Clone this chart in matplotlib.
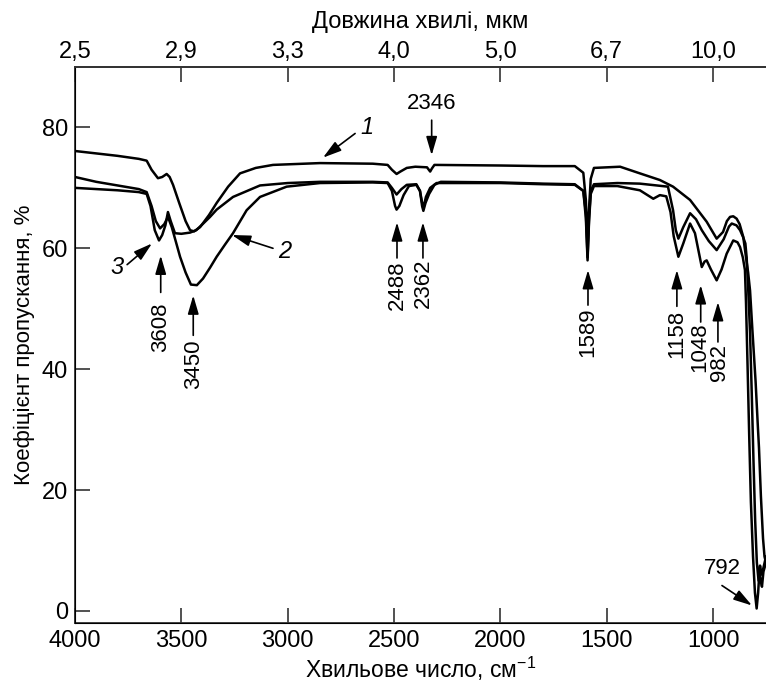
import numpy as np
import matplotlib.pyplot as plt

plt.rcParams['font.family'] = ['Liberation Sans', 'DejaVu Sans']
plt.rcParams['mathtext.fontset'] = 'custom'
plt.rcParams['mathtext.rm'] = 'Liberation Sans'
plt.rcParams['mathtext.it'] = 'Liberation Sans:italic'

# curve 1 (top)
wn1 = [4000, 3900, 3800, 3700, 3663, 3640, 3610, 3590, 3569, 3555, 3539, 3510, 3480, 3459, 3440,
       3412, 3370, 3334, 3280, 3224, 3150, 3069, 2848, 2600, 2530, 2510, 2488, 2470, 2440, 2400,
       2345, 2330, 2322, 2310, 2000, 1800, 1650, 1610, 1598, 1590, 1584, 1575, 1560, 1437, 1344,
       1250, 1188, 1108, 1030, 983, 953, 935, 920, 905, 889, 875, 858, 845, 835, 826, 815, 800,
       790, 784, 775, 765, 758, 751]
t1 = [76.1, 75.7, 75.3, 74.8, 74.5, 73.0, 71.6, 71.8, 72.3, 71.8, 70.5, 67.5, 64.5, 63.0, 62.8,
      63.5, 65.5, 67.5, 70.2, 72.4, 73.3, 73.8, 74.1, 74.0, 73.8, 73.0, 72.3, 72.7, 73.3, 73.5,
      73.4, 72.7, 73.2, 73.8, 73.7, 73.6, 73.6, 72.5, 68.0, 60.0, 66.0, 71.5, 73.3, 73.5, 72.4,
      71.3, 70.2, 68.0, 64.4, 61.6, 62.7, 64.5, 65.2, 65.3, 64.9, 64.0, 61.9, 58.5, 56.0, 53.0, 46.5, 38.0,
      31.0, 27.0, 19.0, 12.0, 9.0, 8.0]

# curve 2 (deep band at 3450)
wn2 = [4000, 3900, 3800, 3700, 3663, 3640, 3620, 3600, 3580, 3563, 3545, 3525, 3506, 3480, 3455,
       3427, 3398, 3365, 3334, 3295, 3257, 3193, 3130, 3005, 2848, 2600, 2530, 2510, 2495, 2488,
       2475, 2455, 2430, 2395, 2378, 2368, 2362, 2352, 2335, 2310, 2280, 2000, 1800, 1650, 1610,
       1598, 1590, 1583, 1575, 1560, 1450, 1344, 1212, 1188, 1175, 1163, 1140, 1108, 1080, 1053,
       1020, 983, 950, 925, 912, 890, 873, 858, 848, 842, 835, 826, 818, 810, 802, 794, 786, 779,
       772, 764, 751]
t2 = [71.8, 71.0, 70.4, 69.8, 69.3, 67.0, 64.5, 63.3, 64.0, 65.2, 63.5, 61.0, 58.6, 56.0, 54.0,
      53.9, 55.0, 56.8, 58.6, 60.6, 62.5, 66.3, 68.5, 70.2, 70.8, 70.9, 70.8, 69.5, 67.0, 66.4,
      67.0, 68.8, 70.3, 70.5, 69.5, 67.0, 66.2, 67.5, 69.0, 70.5, 71.0, 70.9, 70.7, 70.6, 69.5,
      66.0, 58.5, 65.0, 69.5, 70.6, 70.8, 70.7, 70.2, 66.3, 63.0, 61.6, 63.5, 65.8, 64.8, 63.0,
      61.2, 59.7, 61.5, 63.6, 64.1, 63.8, 63.0, 61.8, 60.8, 58.5, 53.5, 46.0, 36.0, 25.0, 15.0, 8.0, 5.0, 7.5,
      6.0, 7.0, 9.0]

# curve 3 (bands at 3608, 1158, 1048, 982)
wn3 = [4000, 3900, 3800, 3700, 3663, 3645, 3625, 3605, 3590, 3575, 3563, 3550, 3530, 3500, 3459,
       3430, 3400, 3365, 3334, 3257, 3130, 3000, 2848, 2600, 2530, 2510, 2488, 2465, 2440, 2395,
       2378, 2366, 2362, 2350, 2330, 2300, 2000, 1800, 1650, 1610, 1598, 1590, 1583, 1575, 1560,
       1450, 1344, 1281, 1250, 1220, 1200, 1185, 1163, 1140, 1108, 1085, 1069, 1053, 1040, 1030,
       1010, 983, 960, 936, 905, 885, 873, 860, 850, 845, 838, 830, 822, 812, 803, 795, 788, 782,
       776, 770, 763, 751]
t3 = [70.0, 69.8, 69.6, 69.3, 69.0, 67.0, 63.0, 61.3, 62.2, 63.8, 66.0, 64.5, 62.5, 62.4, 62.6,
      63.0, 64.0, 65.2, 66.4, 68.5, 70.4, 70.8, 71.0, 71.0, 70.9, 70.0, 68.9, 69.8, 70.5, 70.6,
      69.5, 67.2, 66.6, 68.5, 70.0, 70.8, 70.8, 70.6, 70.5, 69.5, 65.0, 58.0, 64.5, 69.0, 70.3,
      70.3, 69.6, 68.2, 68.8, 68.6, 66.0, 62.0, 58.6, 60.8, 64.1, 62.5, 59.7, 56.9, 57.8, 58.0,
      56.5, 54.7, 56.5, 59.1, 61.3, 61.0, 60.2, 58.5, 56.4, 51.0, 41.0, 29.0, 18.0, 9.0, 3.0, 0.4, 3.0, 6.5,
      5.0, 4.0, 6.5, 8.0]

xticks = [4000, 3500, 3000, 2500, 2000, 1500, 1000]
top_labels = ['2,5', '2,9', '3,3', '4,0', '5,0', '6,7', '10,0']
yticks = [0, 20, 40, 60, 80]

# band labels with vertical text and up arrows
band_labels = ['3608', '3450', '2488', '2362', '1589', '1158', '1048', '982']
band_x = [3597, 3444, 2486, 2364, 1588, 1170, 1058, 977]
text_x = [3597, 3444, 2486, 2364, 1588, 1170, 1064, 969]
tip_y = [58.8, 52.2, 64.3, 64.3, 56.4, 56.4, 53.9, 51.1]
tail_y = [52.7, 45.6, 58.4, 58.4, 50.6, 50.4, 47.8, 44.5]
text_y = [46.9, 40.8, 53.9, 54.2, 46.1, 45.9, 43.6, 41.1]

fig = plt.figure(figsize=(7.66, 6.84), dpi=100)
ax = fig.add_axes([75/766, 61/684, 691/766, 556/684])

for wn, t in [(wn1, t1), (wn2, t2), (wn3, t3)]:
    ax.plot(wn, t, color='black', lw=1.8, solid_joinstyle='round')

ax.set_xlim(4000, 751)
ax.set_ylim(-2, 90)
ax.set_xticks(xticks)
ax.set_yticks(yticks)
ax.spines['right'].set_visible(False)
for s in ['left', 'top', 'bottom']:
    ax.spines[s].set_linewidth(1.3)
    ax.spines[s].set_color('#333333')
ax.tick_params(direction='in', length=11, width=1.2, color='#333333', labelsize=17, pad=5)
ax.set_xlabel('Хвильове число, см$^{-1}$', fontsize=16.5, labelpad=2)
ax.set_ylabel('Коефіцієнт пропускання, %', fontsize=16, labelpad=5)

ax2 = ax.twiny()
ax2.set_xlim(ax.get_xlim())
ax2.set_xticks(xticks)
ax2.set_xticklabels(top_labels)
ax2.spines['right'].set_visible(False)
ax2.spines['top'].set_linewidth(1.3)
ax2.spines['top'].set_color('#333333')
ax2.tick_params(direction='in', length=11, width=1.2, color='#333333', labelsize=17, pad=3)
ax2.set_xlabel('Довжина хвилі, мкм', fontsize=17, labelpad=9)

arrow = dict(arrowstyle='-|>,head_length=0.75,head_width=0.22', color='black', lw=1.2,
             shrinkA=0, shrinkB=0, mutation_scale=15)

for lab, x, tx, yt, ya, ytx in zip(band_labels, band_x, text_x, tip_y, tail_y, text_y):
    ax.annotate('', xy=(x, yt), xytext=(x, ya), arrowprops=arrow)
    ax.text(tx, ytx, lab, rotation=90, ha='center', va='center', fontsize=16)

# 2346 with down arrow
ax.annotate('', xy=(2323, 75.4), xytext=(2323, 81.2), arrowprops=arrow)
ax.text(2321, 84.0, '2346', ha='center', va='center', fontsize=16)

# 792
ax.annotate('', xy=(817, 0.9), xytext=(958, 4.2), arrowprops=arrow)
ax.text(958, 7.0, '792', ha='center', va='center', fontsize=16)

# curve numbers
ax.annotate('', xy=(2834, 75.0), xytext=(2683, 79.0), arrowprops=arrow)
ax.text(2627, 80.0, '1', ha='center', va='center', fontsize=17, style='italic')
ax.annotate('', xy=(3262, 62.2), xytext=(3069, 60.0), arrowprops=arrow)
ax.text(3012, 59.4, '2', ha='center', va='center', fontsize=17, style='italic')
ax.annotate('', xy=(3638, 60.8), xytext=(3755, 57.3), arrowprops=arrow)
ax.text(3803, 56.9, '3', ha='center', va='center', fontsize=17, style='italic')

fig.savefig('out.png', dpi=100)
